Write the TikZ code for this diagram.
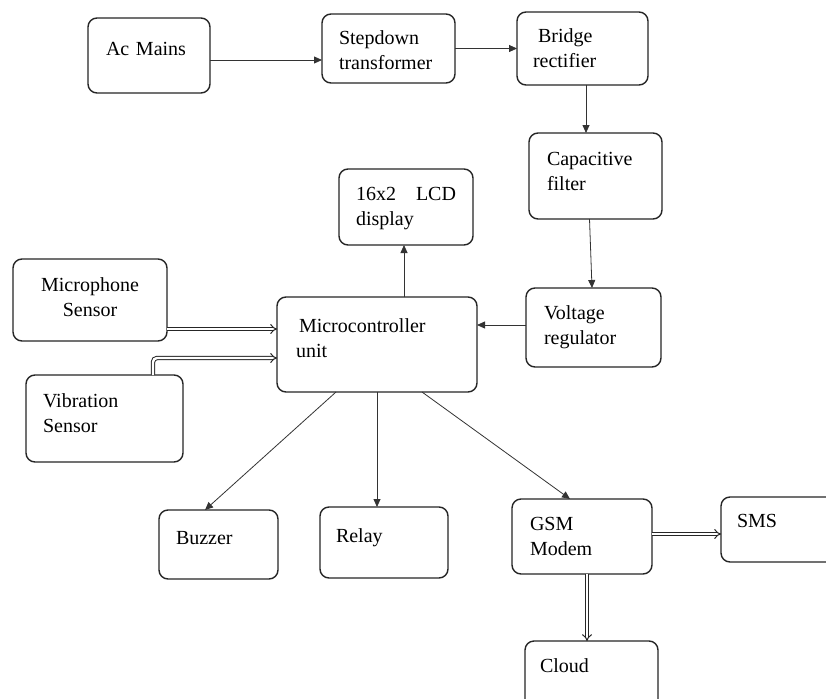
\documentclass[tikz,border=0pt]{standalone}
\usepackage{fontspec}
\setmainfont{Liberation Serif}
\usetikzlibrary{arrows.meta}
\newcommand{\twolines}[3][l]{\begin{tabular}[t]{@{}#1@{}}#2\\#3\end{tabular}}

\begin{document}
\begin{tikzpicture}[x=1pt,y=-1pt,
	box/.style={draw=black!85, line width=1.4pt, rounded corners=9pt, anchor=north west, align=left, inner ysep=0pt, outer sep=0pt, font=\fontsize{20}{25}\selectfont},
	arr/.style={draw=black!80, line width=0.8pt, -{Triangle[length=8pt,width=7pt]}},
	dbl/.style={draw=black!85, double, double distance=2.4pt, line width=1pt, -{Implies}}]
	\useasboundingbox[fill=white] (0,0) rectangle (826,698);
	\node[box, inner xsep=18pt, text width=86pt, text height=38pt, text depth=37pt] (ac) at (88,18) {Ac Mains};
	\node[box, inner xsep=17pt, text width=99pt, text height=31pt, text depth=38pt] (sd) at (322,14) {\twolines{Stepdown}{transformer}};
	\node[box, inner xsep=16pt, text width=99pt, text height=31pt, text depth=42pt] (br) at (517,12) {\twolines{\hspace{5pt}Bridge}{rectifier}};
	\node[box, inner xsep=18pt, text width=97pt, text height=32pt, text depth=54pt] (cap) at (529,133) {\twolines{Capacitive}{filter}};
	\node[box, inner xsep=17pt, text width=100pt, text height=31pt, text depth=45pt] (lcd) at (339,169) {\twolines{16x2\hspace{20pt}LCD}{display}};
	\node[box, align=center, inner xsep=10pt, text width=134pt, text height=32pt, text depth=50pt] (mic) at (13,259) {\twolines[c]{Microphone}{Sensor}};
	\node[box, inner xsep=19pt, text width=162pt, text height=35pt, text depth=60pt] (mcu) at (277,297) {\twolines{\hspace{3pt}Microcontroller}{unit}};
	\node[box, inner xsep=18pt, text width=99pt, text height=31pt, text depth=48pt] (vreg) at (526,288) {\twolines{Voltage}{regulator}};
	\node[box, inner xsep=17pt, text width=123pt, text height=32pt, text depth=55pt] (vib) at (26,375) {\twolines{Vibration}{Sensor}};
	\node[box, inner xsep=17pt, text width=85pt, text height=34pt, text depth=35pt] (bz) at (159,510) {Buzzer};
	\node[box, inner xsep=16pt, text width=96pt, text height=35pt, text depth=36pt] (rl) at (320,507) {Relay};
	\node[box, inner xsep=18pt, text width=104pt, text height=31pt, text depth=44pt] (gsm) at (512,499) {\twolines{GSM}{Modem}};
	\node[box, inner xsep=16pt, text width=97pt, text height=30pt, text depth=35pt] (sms) at (721,497) {SMS};
	\node[box, inner xsep=15pt, text width=103pt, text height=31pt, text depth=48pt] (cl) at (525,641) {Cloud};

	\draw[arr] ([yshift=-4.5pt]ac.east) -- ([yshift=-11.5pt]sd.west);
	\draw[arr] (sd.east) -- (br.west);
	\draw[arr] ([xshift=3.5pt]br.south) -- ([xshift=-9.5pt]cap.north);
	\draw[arr] ([xshift=-6pt]cap.south) -- ([xshift=-1.5pt]vreg.north);
	\draw[arr] ([yshift=2.5pt]vreg.west) -- ([yshift=19.5pt]mcu.east);
	\draw[arr] ([xshift=27pt]mcu.north) -- ([xshift=-2pt]lcd.south);
	\draw[dbl] ([yshift=-29pt]mic.east) -- ([yshift=15.5pt]mcu.west);
	\draw[dbl, rounded corners=4pt] ([xshift=48.5pt]vib.north) |- ([yshift=-13.5pt]mcu.west);
	\draw[arr] ([xshift=-41pt]mcu.south) -- ([xshift=-13.5pt]bz.north);
	\draw[arr] (mcu.south) -- (mcu.south |- rl.north);
	\draw[arr] ([xshift=45pt]mcu.south) -- ([xshift=-12pt]gsm.north);
	\draw[dbl] ([yshift=2.5pt]gsm.east) -- ([yshift=-4.5pt]sms.west);
	\draw[dbl] ([xshift=5pt]gsm.south) -- ([xshift=-4.5pt]cl.north);
\end{tikzpicture}
\end{document}
